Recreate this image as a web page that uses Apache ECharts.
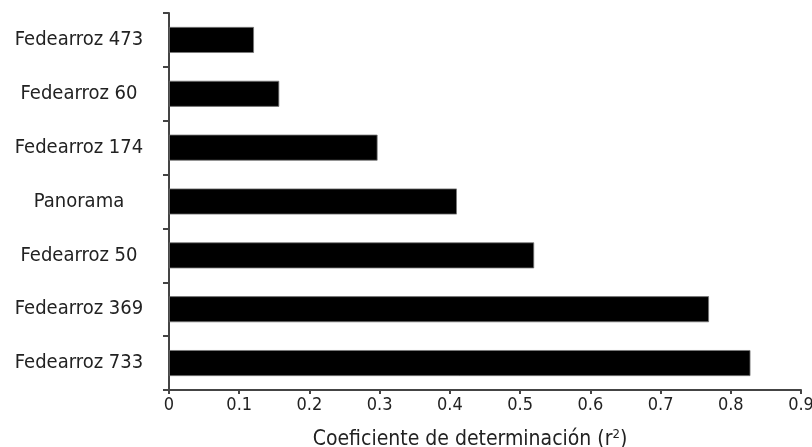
<!DOCTYPE html>
<html>
<head>
<meta charset="utf-8">
<script src="https://cdn.jsdelivr.net/npm/echarts@6/dist/echarts.min.js"></script>
<style>
  html, body { margin: 0; padding: 0; background: #fff; }
  #chart { width: 812px; height: 447px; }
</style>
</head>
<body>
<div id="chart"></div>
<script>
const categories = ['Fedearroz 473', 'Fedearroz 60', 'Fedearroz 174', 'Panorama', 'Fedearroz 50', 'Fedearroz 369', 'Fedearroz 733'];
const values = [0.121, 0.157, 0.297, 0.41, 0.52, 0.769, 0.828];
const xTicks = ['0', '0.1', '0.2', '0.3', '0.4', '0.5', '0.6', '0.7', '0.8', '0.9'];

const FONT = '"DejaVu Sans Condensed", "DejaVu Sans", sans-serif';
const chart = echarts.init(document.getElementById('chart'));
chart.setOption({
  animation: false,
  backgroundColor: '#fff',
  grid: { left: 169, right: 11, top: 13, bottom: 57, containLabel: false, outerBoundsMode: 'none' },
  xAxis: {
    type: 'value',
    min: 0, max: 0.9, interval: 0.1,
    axisLine: { show: true, lineStyle: { color: '#444', width: 2 } },
    axisTick: { show: true, length: 4, lineStyle: { color: '#444', width: 2 } },
    splitLine: { show: false },
    axisLabel: {
      margin: 6,
      color: '#222', fontFamily: FONT, fontSize: 18,
      formatter: function (v) { return xTicks[Math.round(v * 10)]; }
    },
    name: 'Coeficiente de determinación (r{sup|2})',
    nameLocation: 'middle',
    nameGap: 38,
    nameTextStyle: {
      color: '#222', fontFamily: FONT, fontSize: 21,
      padding: [0, 30, 0, 0],
      rich: { sup: { fontSize: 13, verticalAlign: 'top', padding: [0, 0, 10, 0], color: '#222', fontFamily: FONT } }
    }
  },
  yAxis: {
    type: 'category',
    data: categories,
    inverse: true,
    axisLine: { show: true, lineStyle: { color: '#444', width: 2 } },
    axisTick: { show: true, length: 6, lineStyle: { color: '#444', width: 2 } },
    axisLabel: {
      align: 'center', margin: 90,
      color: '#222', fontFamily: FONT, fontSize: 20
    }
  },
  series: [{
    type: 'bar',
    data: values,
    barWidth: 26,
    itemStyle: { color: '#000', borderColor: '#777', borderWidth: 0.8 }
  }]
});
</script>
</body>
</html>
